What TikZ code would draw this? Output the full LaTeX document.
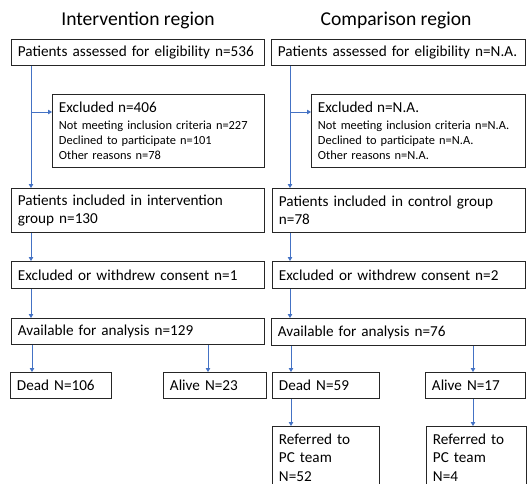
\documentclass[tikz,border=0pt]{standalone}
\usepackage{fontspec}
\setmainfont{Carlito}
\usetikzlibrary{arrows.meta}
\definecolor{arrblue}{RGB}{68,114,196}
\begin{document}
\begin{tikzpicture}[x=1pt,y=-1pt,
  box/.style={draw=black!85, line width=0.9pt, anchor=north west, inner xsep=6.5pt, inner ysep=0pt,
    align=left, font=\fontsize{15.2}{18.5}\selectfont},
  exbox/.style={box, font=\fontsize{12.4}{15}\selectfont},
  title/.style={font=\fontsize{19.6}{22}\selectfont},
  arr/.style={draw=arrblue, line width=0.8pt, -{Triangle[width=4.5pt,length=4pt]}}]
\clip (0,0) rectangle (527,484);
\fill[white] (0,0) rectangle (527,484);
% titles
\node[title] (t1) at (138,20) {Intervention region};
\node[title] (t2) at (396,20) {Comparison region};
% left column
\node[box, minimum width=253, minimum height=26, text width=240] (a1) at (11,39) {Patients assessed for eligibility n=536};
\node[exbox, minimum width=212, minimum height=73, text width=199] (e1) at (52,94)
  {{\fontsize{15.2}{15}\selectfont Excluded n=406}\\[1.5pt]Not meeting inclusion criteria n=227\\Declined to participate n=101\\Other reasons n=78};
\node[box, minimum width=253, minimum height=44, text width=240] (i1) at (11,188) {Patients included in intervention\\group n=130};
\node[box, minimum width=253, minimum height=27, text width=240] (w1) at (11,261) {Excluded or withdrew consent n=1};
\node[box, minimum width=253, minimum height=26, text width=240] (v1) at (11,318) {Available for analysis n=129};
\node[box, minimum width=101, minimum height=26, text width=88] (d1) at (10,372) {Dead N=106};
\node[box, minimum width=103, minimum height=26, text width=90] (l1) at (163,372) {Alive N=23};
% right column
\node[box, minimum width=254, minimum height=26, text width=241] (a2) at (271,39) {Patients assessed for eligibility n=N.A.};
\node[exbox, minimum width=214, minimum height=73, text width=201] (e2) at (311,94)
  {{\fontsize{15.2}{15}\selectfont Excluded n=N.A.}\\[1.5pt]Not meeting inclusion criteria n=N.A.\\Declined to participate n=N.A.\\Other reasons n=N.A.};
\node[box, minimum width=253, minimum height=44, text width=240] (i2) at (272,188) {Patients included in control group\\n=78};
\node[box, minimum width=253, minimum height=27, text width=240] (w2) at (272,261) {Excluded or withdrew consent n=2};
\node[box, minimum width=254, minimum height=27, text width=241] (v2) at (271,318) {Available for analysis n=76};
\node[box, minimum width=107, minimum height=26, text width=94] (d2) at (272,372) {Dead N=59};
\node[box, minimum width=100, minimum height=26, text width=87] (l2) at (425,372) {Alive N=17};
\node[box, minimum width=107, minimum height=62, text width=94] (r1) at (272,426) {Referred to\\PC team\\N=52};
\node[box, minimum width=100, minimum height=62, text width=87] (r2) at (426,426) {Referred to\\PC team\\N=4};
% connectors left
\coordinate (s1) at ([xshift=20]a1.south west);
\draw[arr] (s1) -- (s1 |- i1.north);
\draw[arr] (s1 |- e1.north west) ++(0,18) coordinate (b1) -- (e1.west |- b1);
\draw[arr] (s1 |- i1.south) -- (s1 |- w1.north);
\draw[arr] (s1 |- w1.south) -- (s1 |- v1.north);
\draw[arr] ([xshift=22]d1.north west |- v1.south) -- ([xshift=22]d1.north west);
\draw[arr] ([xshift=45]l1.north west |- v1.south) -- ([xshift=45]l1.north west);
% connectors right
\coordinate (s2) at ([xshift=18]i2.north west |- a2.south);
\draw[arr] (s2) -- (s2 |- i2.north);
\draw[arr] (s2 |- e2.north west) ++(0,18) coordinate (b2) -- (e2.west |- b2);
\draw[arr] (s2 |- i2.south) -- (s2 |- w2.north);
\draw[arr] (s2 |- w2.south) -- (s2 |- v2.north);
\draw[arr] ([xshift=19]d2.north west |- v2.south) -- ([xshift=19]d2.north west);
\draw[arr] ([xshift=48]l2.north west |- v2.south) -- ([xshift=48]l2.north west);
\draw[arr] ([xshift=19]d2.south west) -- ([xshift=19]d2.south west |- r1.north);
\draw[arr] ([xshift=48]l2.south west) -- ([xshift=48]l2.south west |- r2.north);
\end{tikzpicture}
\end{document}
